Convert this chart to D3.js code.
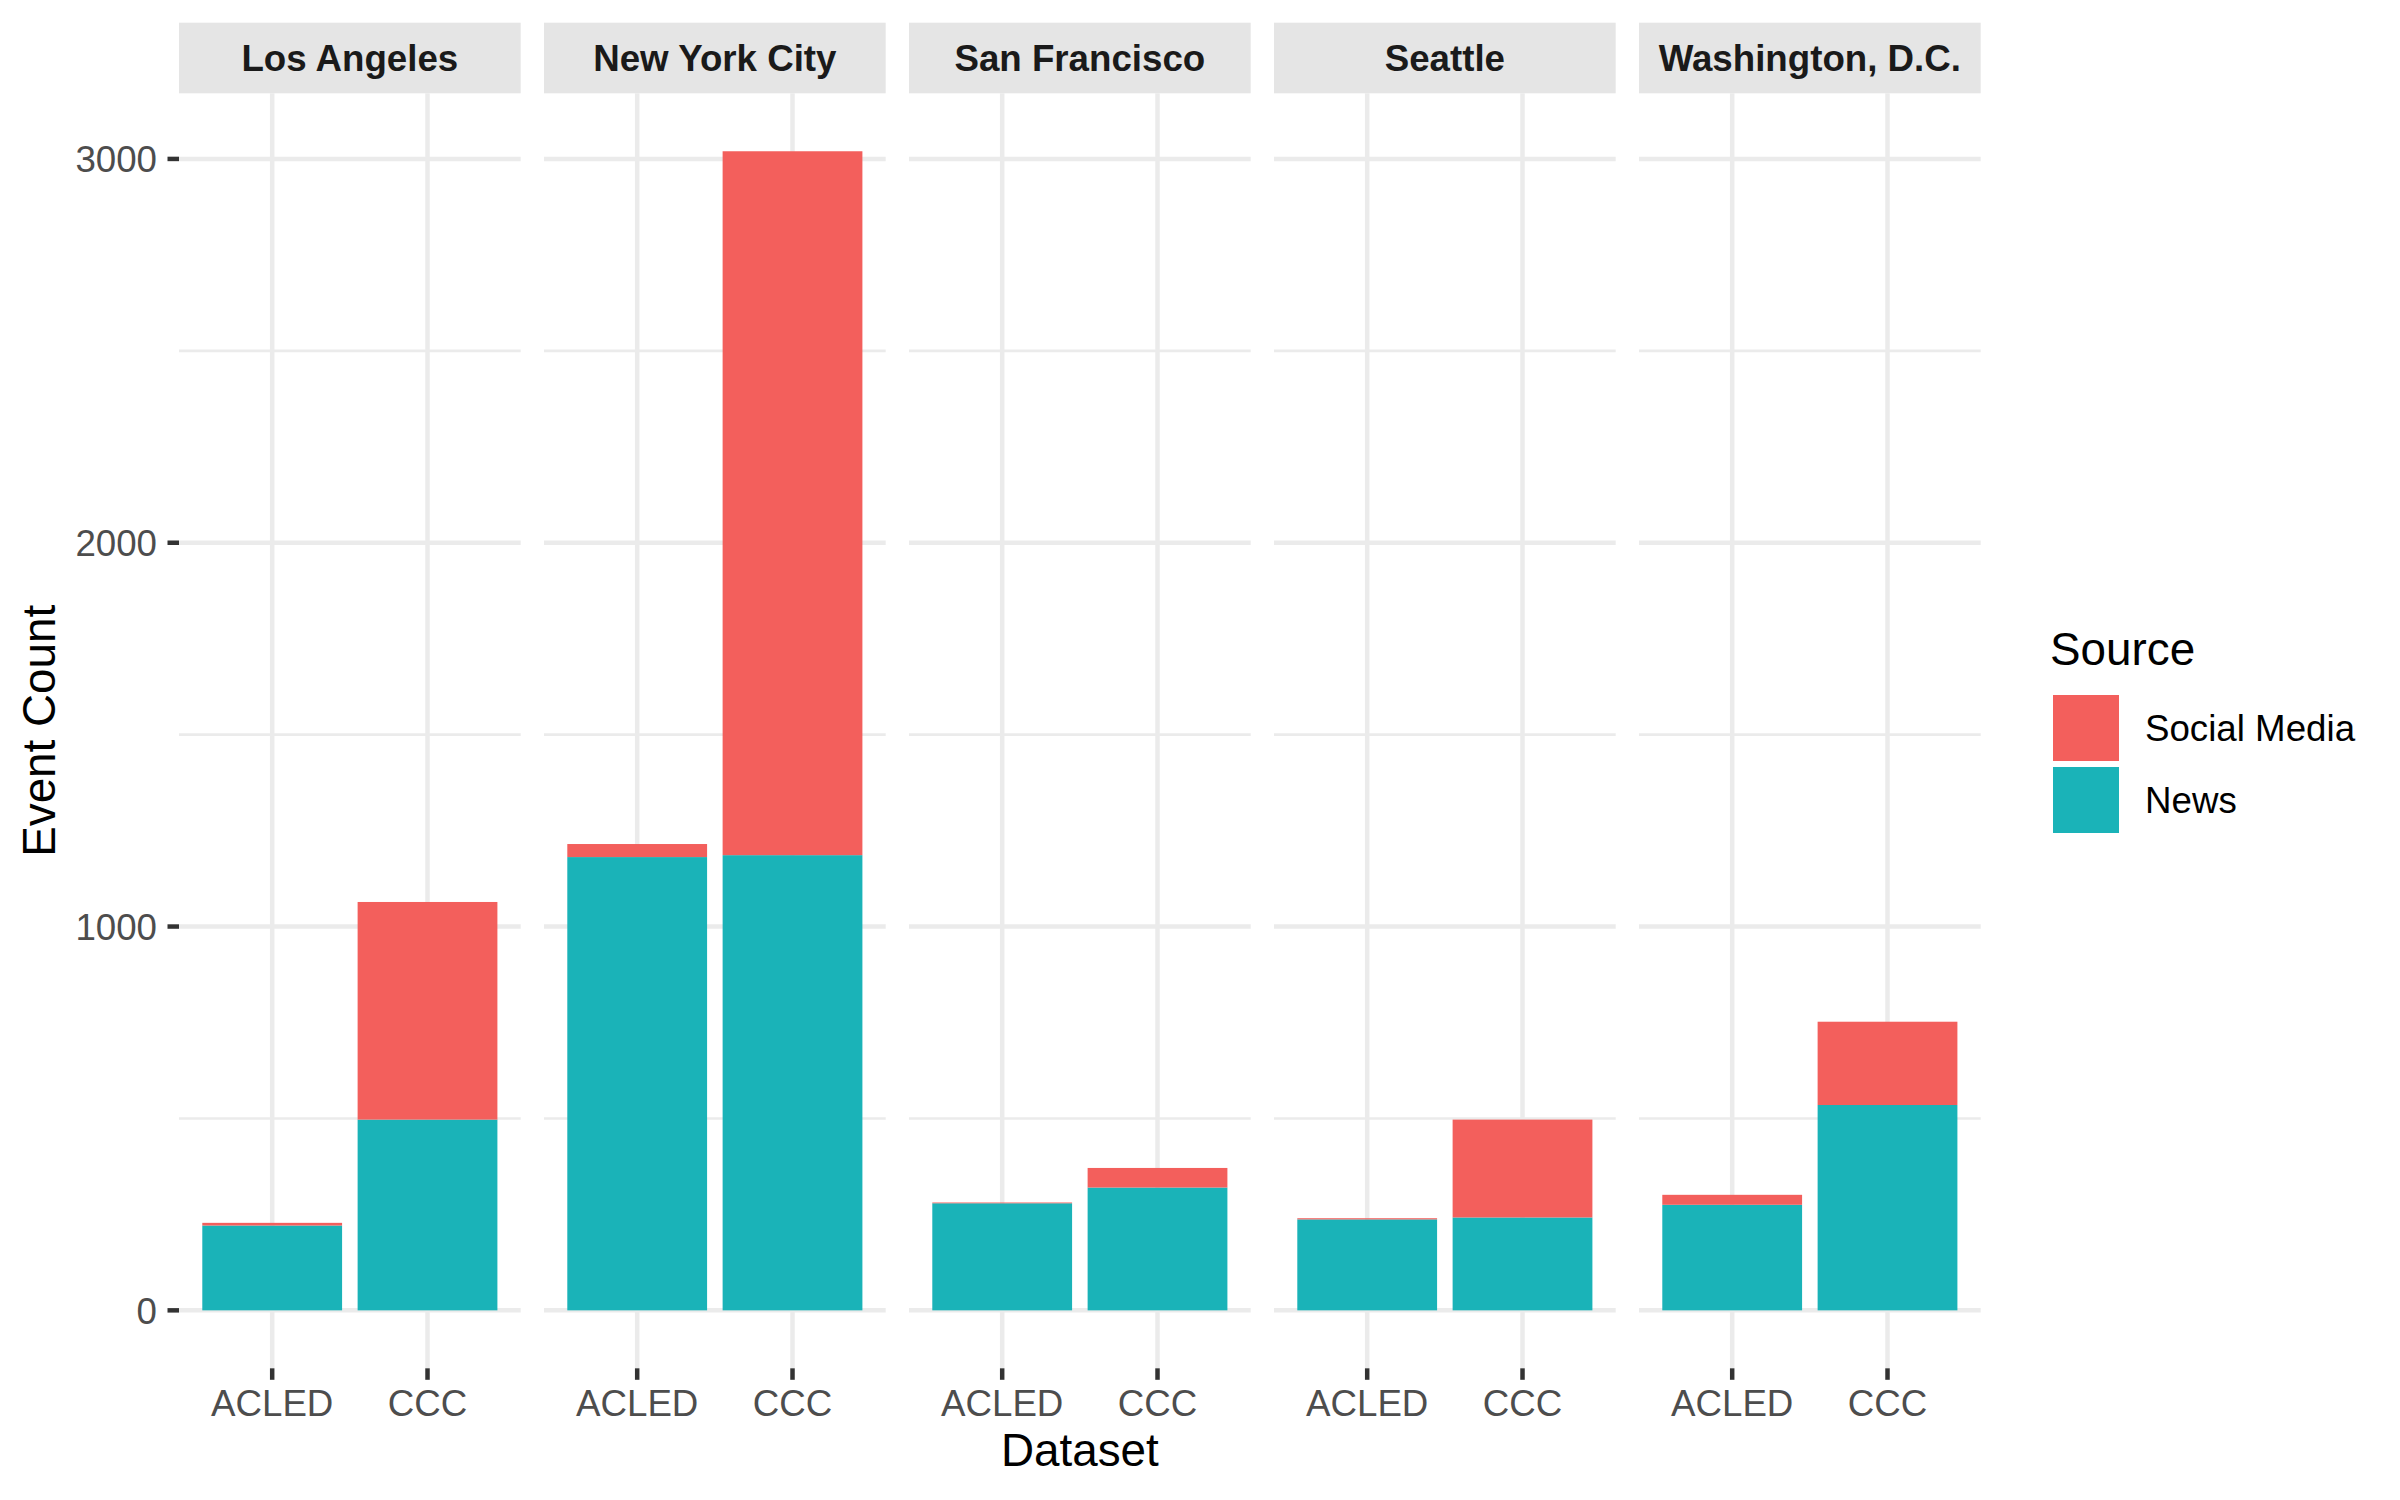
<!DOCTYPE html>
<html>
<head>
<meta charset="utf-8">
<script src="https://cdn.jsdelivr.net/npm/d3@7"></script>
<style>
  html, body { margin: 0; padding: 0; background: #ffffff; }
  svg { display: block; font-family: "Liberation Sans", Arial, Helvetica, sans-serif; }
</style>
</head>
<body>
<svg id="chart" width="2400" height="1500"></svg>
<script>
// ---- data ----
const cities = ["Los Angeles", "New York City", "San Francisco", "Seattle", "Washington, D.C."];
const datasets = ["ACLED", "CCC"];
const sources = ["Social Media", "News"];            // legend order
const newsCounts = [[221, 497], [1181, 1186], [279, 320], [237, 242], [275, 535]];
const socialCounts = [[7, 567], [34, 1834], [2, 51], [3, 255], [26, 217]];
const yTicks = [0, 1000, 2000, 3000];
const yMinor = [500, 1500, 2500];

// ---- layout ----
const W = 2400, H = 1500;
const panelLeft = 179, panelW = 341.7, panelGap = 23.3;
const stripTop = 22.7, stripBottom = 93.3;
const panelTop = stripBottom, panelBottom = 1368.3;
const colors = { "Social Media": "#F35F5C", "News": "#1AB3B8" };
const gridCol = "#EBEBEB";

const svg = d3.select("#chart");

const totals = cities.map((c, i) => datasets.map((d, j) => newsCounts[i][j] + socialCounts[i][j]));
const maxTotal = d3.max(totals.flat());
const y = d3.scaleLinear()
  .domain([-0.05 * maxTotal, 1.05 * maxTotal])
  .range([panelBottom, panelTop]);

// discrete x within panel: expand add 0.6
const xCont = d3.scaleLinear().domain([0.4, 2.6]).range([0, panelW]);
const barHalf = 0.45;

cities.forEach((city, i) => {
  const px = panelLeft + i * (panelW + panelGap);
  const g = svg.append("g").attr("transform", `translate(${px},0)`);

  // strip
  g.append("rect").attr("x", 0).attr("y", stripTop).attr("width", panelW)
    .attr("height", stripBottom - stripTop).attr("fill", "#E5E5E5");
  g.append("text").attr("x", panelW / 2).attr("y", (stripTop + stripBottom) / 2)
    .attr("dy", "0.36em").attr("text-anchor", "middle")
    .attr("font-size", 36.7).attr("font-weight", "bold").attr("fill", "#1A1A1A")
    .text(city);

  // minor gridlines
  g.selectAll(".minor").data(yMinor).enter().append("line")
    .attr("x1", 0).attr("x2", panelW).attr("y1", d => y(d)).attr("y2", d => y(d))
    .attr("stroke", gridCol).attr("stroke-width", 2.6);
  // major gridlines
  g.selectAll(".major").data(yTicks).enter().append("line")
    .attr("x1", 0).attr("x2", panelW).attr("y1", d => y(d)).attr("y2", d => y(d))
    .attr("stroke", gridCol).attr("stroke-width", 4.5);
  g.selectAll(".vgrid").data(datasets).enter().append("line")
    .attr("x1", (d, j) => xCont(j + 1)).attr("x2", (d, j) => xCont(j + 1))
    .attr("y1", panelTop).attr("y2", panelBottom)
    .attr("stroke", gridCol).attr("stroke-width", 4.5);

  // stacked bars
  datasets.forEach((ds, j) => {
    const n = newsCounts[i][j], s = socialCounts[i][j];
    const x0 = xCont(j + 1 - barHalf), x1 = xCont(j + 1 + barHalf);
    g.append("rect").attr("x", x0).attr("width", x1 - x0)
      .attr("y", y(n)).attr("height", y(0) - y(n)).attr("fill", colors["News"]);
    g.append("rect").attr("x", x0).attr("width", x1 - x0)
      .attr("y", y(n + s)).attr("height", y(n) - y(n + s)).attr("fill", colors["Social Media"]);
  });

  // x ticks + labels
  datasets.forEach((ds, j) => {
    const cx = xCont(j + 1);
    g.append("line").attr("x1", cx).attr("x2", cx)
      .attr("y1", panelBottom).attr("y2", panelBottom + 11.5)
      .attr("stroke", "#333333").attr("stroke-width", 4.5);
    g.append("text").attr("x", cx).attr("y", 1416).attr("text-anchor", "middle")
      .attr("font-size", 36.7).attr("fill", "#4D4D4D").text(ds);
  });
});

// y axis ticks + labels (left of first panel)
const ya = svg.append("g");
yTicks.forEach(t => {
  ya.append("line").attr("x1", panelLeft - 11.5).attr("x2", panelLeft)
    .attr("y1", y(t)).attr("y2", y(t)).attr("stroke", "#333333").attr("stroke-width", 4.5);
  ya.append("text").attr("x", 157).attr("y", y(t)).attr("dy", "0.36em")
    .attr("text-anchor", "end").attr("font-size", 36.7).attr("fill", "#4D4D4D").text(t);
});

// axis titles
const panelsRight = panelLeft + 5 * panelW + 4 * panelGap;
svg.append("text").attr("x", (panelLeft + panelsRight) / 2).attr("y", 1466)
  .attr("text-anchor", "middle").attr("font-size", 45.8).attr("fill", "#000").text("Dataset");
svg.append("text").attr("transform", `translate(55,${(panelTop + panelBottom) / 2}) rotate(-90)`)
  .attr("text-anchor", "middle").attr("font-size", 45.8).attr("fill", "#000").text("Event Count");

// legend
const lg = svg.append("g");
lg.append("text").attr("x", 2050).attr("y", 665).attr("font-size", 45.8).attr("fill", "#000").text("Source");
sources.forEach((s, k) => {
  const ky = 695 + k * 72;
  lg.append("rect").attr("x", 2053).attr("y", ky).attr("width", 66).attr("height", 66).attr("fill", colors[s]);
  lg.append("text").attr("x", 2145).attr("y", ky + 33).attr("dy", "0.36em")
    .attr("font-size", 36.7).attr("fill", "#000").text(s);
});
</script>
</body>
</html>
